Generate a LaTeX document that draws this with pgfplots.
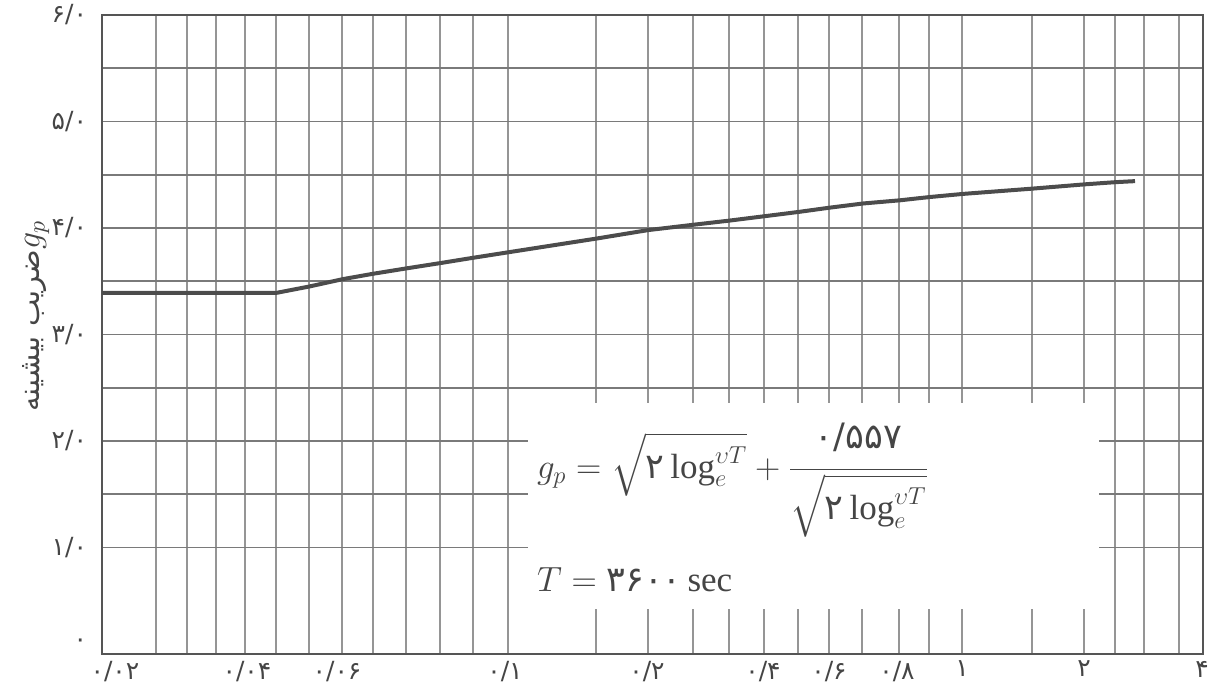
\RequirePackage{fix-cm}
\documentclass[border=0pt]{standalone}
\usepackage{fontspec}
\setmainfont{Liberation Serif}
\newfontfamily\arabicfont[Script=Arabic]{DejaVu Sans}
\usepackage{amsmath}
\usepackage{pgfplots}
\pgfplotsset{compat=1.18}
\TeXXeTstate=1

\definecolor{gridh}{HTML}{7A7A7A}
\definecolor{gridv}{HTML}{959595}
\definecolor{axc}{HTML}{555555}
\definecolor{curvec}{HTML}{4C4C4C}
\definecolor{txt}{HTML}{454545}

% x is measured along the (hand-drawn, non-uniform) frequency scale of the
% original chart: 0 = left edge (0.02), 1101 = right edge (4)
\begin{document}
\begin{tikzpicture}
\begin{axis}[
    scale only axis,
    width=550.5pt, height=319.5pt,
    xmin=0, xmax=1101, ymin=0, ymax=6,
    clip=false,
    axis line style={axc, line width=1.4pt},
    xtick={13,145,235,403,545,661,727,795,860,982,1100},
    xticklabels={۰/۰۲,۰/۰۴,۰/۰۶,۰/۱,۰/۲,۰/۴,۰/۶,۰/۸,۱,۲,۴},
    minor xtick={54,85,114,143,174,207,240,271,304,338,371,406,494,546,591,627,662,696,727,760,797,827,860,930,982,1013,1042,1077},
    ytick={1,1.5,2,2.5,3,3.5,4,4.5,5,5.5,6},
    yticklabels={۱/۰,{},۲/۰,{},۳/۰,{},۴/۰,{},۵/۰,{},۶/۰},
    extra y ticks={0.1},
    extra y tick labels={۰},
    extra y tick style={grid=none},
    ymajorgrids=true, xmajorgrids=false, xminorgrids=true,
    major grid style={gridh, line width=0.85pt},
    minor grid style={gridv, line width=0.7pt},
    major tick length=0pt, minor tick length=0pt,
    tick label style={font=\arabicfont\fontsize{12.5}{14}\selectfont, text=txt},
    yticklabel style={xshift=-4pt},
    xticklabel style={yshift=0pt},
]
\coordinate (bl) at (rel axis cs:0,0);
\coordinate (tr) at (rel axis cs:1,1);

% white panel holding the formula
\fill[white] (axis cs:426,0.42) rectangle (axis cs:997,2.36);

\addplot[curvec, line width=2pt, line join=round] coordinates {
    (0,3.39) (174,3.39) (207,3.45) (241,3.52) (271,3.57) (304,3.62)
    (338,3.67) (371,3.72) (405,3.77) (494,3.90) (546,3.98) (591,4.03)
    (628,4.07) (662,4.11) (696,4.15) (727,4.19) (761,4.23) (798,4.26)
    (827,4.29) (861,4.32) (931,4.37) (983,4.41) (1013,4.43) (1033,4.44)
};

\node[anchor=west, text=txt, font=\fontsize{17.5}{21}\selectfont] at (axis cs:428,1.63)
    {$g_p=\sqrt{\text{\arabicfont ۲}\log_e^{\upsilon T}}+\dfrac{\raisebox{3pt}{\arabicfont ۰/۵۵۷}}{\sqrt{\text{\arabicfont ۲}\log_e^{\upsilon T}}}$};
\node[anchor=west, text=txt, font=\fontsize{17.5}{21}\selectfont] at (axis cs:428,0.70)
    {$T=\text{\arabicfont ۳۶۰۰}\,\text{sec}$};

\node[rotate=90, text=txt, font=\fontsize{14.5}{17}\selectfont] at (axis cs:-66,3.17)
    {{\arabicfont\beginR ضریب بیشینه\endR}{\fontsize{17}{19}\selectfont$g_p$}};
\end{axis}
\pgfresetboundingbox
\path[use as bounding box] ([shift={(-51pt,-15.5pt)}]bl) rectangle ([shift={(5pt,7.5pt)}]tr);
\end{tikzpicture}
\end{document}
